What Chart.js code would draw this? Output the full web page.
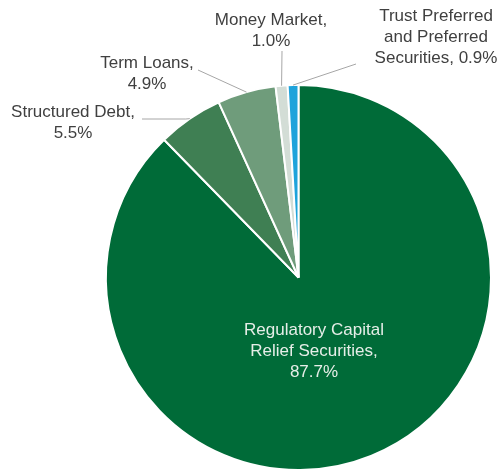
<!DOCTYPE html>
<html>
<head>
<meta charset="utf-8">
<script src="https://cdn.jsdelivr.net/npm/chart.js@4"></script>
<style>
  html, body { margin: 0; padding: 0; background: #fff; }
  #wrap { width: 502px; height: 473px; }
</style>
</head>
<body>
<div id="wrap"><canvas id="grafico"></canvas></div>
<script>
// dados do gráfico
const categorias = ['Regulatory Capital Relief Securities', 'Structured Debt', 'Term Loans', 'Money Market', 'Trust Preferred and Preferred Securities'];
const valores = [87.7, 5.5, 4.9, 1.0, 0.9];
const cores = ['#006b38', '#3f7f53', '#6f9c7b', '#d3ddd6', '#1ea3db'];

// texto de cada rótulo (linhas)
const rotulos = [
  ['Regulatory Capital', 'Relief Securities,', '87.7%'],
  ['Structured Debt,', '5.5%'],
  ['Term Loans,', '4.9%'],
  ['Money Market,', '1.0%'],
  ['Trust Preferred', 'and Preferred', 'Securities, 0.9%']
];

// posição do texto e ponto onde a linha guia termina perto do texto
const posRotulos = [
  { x: 314, y: 330, cor: '#e6eee8' },
  { x: 73, y: 112, cor: '#404040', linha: [142, 119] },
  { x: 147, y: 63, cor: '#404040', linha: [198, 70] },
  { x: 271, y: 20, cor: '#404040', linha: [282, 51] },
  { x: 436, y: 16, cor: '#404040', linha: [356, 64] }
];

const rotulosPlugin = {
  id: 'rotulos',
  afterDraw(chart) {
    const ctx = chart.ctx;
    const meta = chart.getDatasetMeta(0);
    ctx.save();
    ctx.font = '17px "Liberation Sans", Arial, sans-serif';
    ctx.textAlign = 'center';
    ctx.textBaseline = 'middle';
    meta.data.forEach((arc, i) => {
      const p = posRotulos[i];
      if (p.linha) {
        const meio = (arc.startAngle + arc.endAngle) / 2;
        const r = arc.outerRadius;
        const ax = arc.x + Math.cos(meio) * r;
        const ay = arc.y + Math.sin(meio) * r;
        ctx.strokeStyle = '#a6a6a6';
        ctx.lineWidth = 1;
        ctx.beginPath();
        ctx.moveTo(p.linha[0], p.linha[1]);
        if (i === 1) ctx.lineTo(ax - 4, p.linha[1]);
        ctx.lineTo(ax, ay);
        ctx.stroke();
      }
      ctx.fillStyle = p.cor;
      rotulos[i].forEach((t, k) => {
        ctx.fillText(t, p.x, p.y + k * 21);
      });
    });
    ctx.restore();
  }
};

const ctx = document.getElementById('grafico').getContext('2d');
new Chart(ctx, {
  type: 'pie',
  data: {
    labels: categorias,
    datasets: [{
      data: valores,
      backgroundColor: cores,
      borderColor: '#ffffff',
      borderWidth: 2
    }]
  },
  options: {
    responsive: true,
    maintainAspectRatio: false,
    animation: false,
    layout: { padding: { top: 84, bottom: 2, left: 105, right: 10 } },
    plugins: {
      legend: { display: false },
      tooltip: { enabled: false }
    }
  },
  plugins: [rotulosPlugin]
});
</script>
</body>
</html>
